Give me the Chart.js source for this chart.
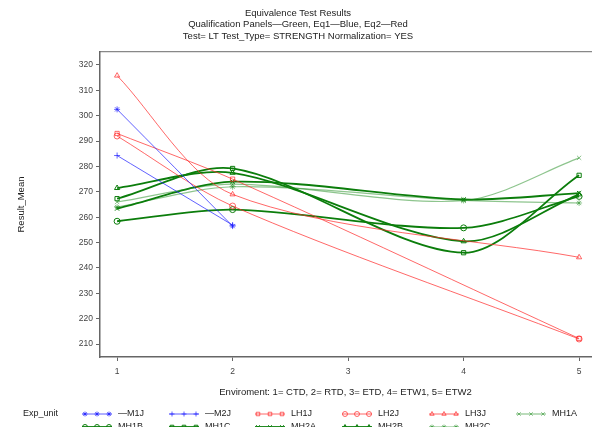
<!DOCTYPE html>
<html>
<head>
<meta charset="utf-8">
<script src="https://cdn.jsdelivr.net/npm/chart.js@4.4.0/dist/chart.umd.min.js"></script>
<style>
  html, body { margin: 0; padding: 0; background: #fff; overflow: hidden; }
  canvas { display: block; }
</style>
</head>
<body>
<canvas id="chart" width="596" height="427"></canvas>
<script>
// Eq1 (blue), tested at environments 1 and 2
const xBlue = [1, 2];
const m1j = [302.5, 256.5];
const m2j = [284.3, 256.9];

// Eq2 (red), tested at environments 1, 2 and 5
const xRed = [1, 2, 5];
const lh1j = [293.0, 275.0, 212.2];
const lh2j = [292.0, 264.4, 212.0];
const lh3j = [315.8, 269.0, 244.2];

// Qualification panels (green), tested at environments 1, 2, 4 and 5
const xGreen = [1, 2, 4, 5];
const mh1a = [266.0, 273.0, 266.5, 283.4];
const mh1b = [258.4, 263.0, 255.8, 268.2];
const mh1c = [267.3, 279.2, 246.0, 276.5];
const mh2a = [263.4, 274.0, 267.0, 269.5];
const mh2b = [271.5, 277.5, 250.5, 269.0];
const mh2c = [264.0, 272.0, 266.6, 265.6];

const titleLines = [
    'Equivalence Test Results',
    'Qualification Panels\u2014Green, Eq1\u2014Blue, Eq2\u2014Red',
    'Test= LT Test_Type= STRENGTH Normalization= YES'
];
const xTitle = 'Enviroment: 1= CTD, 2= RTD, 3= ETD, 4= ETW1, 5= ETW2';
const yTitle = 'Result_Mean';

const FONT = '"Liberation Sans", Arial, sans-serif';
const BLUE = 'rgba(30,30,255,0.7)';
const RED = 'rgba(255,40,40,0.7)';
const GREEN = '#0b7d0b';
const LIGHTGREEN = 'rgba(30,140,30,0.5)';

function pts(xs, ys) {
    return xs.map((x, i) => ({ x: x, y: ys[i] }));
}

function series(label, xs, ys, color, style, width) {
    return {
        label: label,
        data: pts(xs, ys),
        borderColor: color,
        borderWidth: width,
        pointStyle: style,
        pointRadius: 3,
        pointBorderWidth: 1,
        pointBorderColor: color,
        pointBackgroundColor: 'rgba(255,255,255,0)',
        tension: 0.3,
        fill: false
    };
}

// legend grid below the chart (second row runs off the page like the original)
const legendCols = [82, 169, 255, 342, 429, 516];
const legendRows = [414, 427];

const expLegend = {
    id: 'expLegend',
    afterDraw(chart) {
        const ctx = chart.ctx;
        ctx.save();
        ctx.font = '9px ' + FONT;
        ctx.textBaseline = 'middle';
        ctx.fillStyle = '#222';
        ctx.fillText('Exp_unit', 23, legendRows[0]);
        chart.data.datasets.forEach((ds, i) => {
            const x0 = legendCols[i % 6];
            const y = legendRows[Math.floor(i / 6)];
            ctx.strokeStyle = ds.borderColor;
            ctx.lineWidth = ds.borderWidth;
            ctx.beginPath();
            ctx.moveTo(x0, y);
            ctx.lineTo(x0 + 30, y);
            ctx.stroke();
            ctx.lineWidth = 1;
            ctx.fillStyle = 'rgba(255,255,255,0)';
            [3, 15, 27].forEach(dx => {
                Chart.helpers.drawPoint(ctx, { pointStyle: ds.pointStyle, radius: 2.5, borderWidth: 1, rotation: 0 }, x0 + dx, y);
            });
            ctx.fillStyle = '#222';
            ctx.fillText(ds.label, x0 + 36, y);
        });
        ctx.restore();
    }
};

const ctx = document.getElementById('chart').getContext('2d');
new Chart(ctx, {
    type: 'line',
    data: {
        datasets: [
            series('\u2014M1J', xBlue, m1j, BLUE, 'star', 1),
            series('\u2014M2J', xBlue, m2j, BLUE, 'cross', 1),
            series('LH1J', xRed, lh1j, RED, 'rect', 1),
            series('LH2J', xRed, lh2j, RED, 'circle', 1),
            series('LH3J', xRed, lh3j, RED, 'triangle', 1),
            series('MH1A', xGreen, mh1a, LIGHTGREEN, 'crossRot', 1.2),
            series('MH1B', xGreen, mh1b, GREEN, 'circle', 1.8),
            series('MH1C', xGreen, mh1c, GREEN, 'rect', 1.8),
            series('MH2A', xGreen, mh2a, GREEN, 'crossRot', 1.8),
            series('MH2B', xGreen, mh2b, GREEN, 'triangle', 1.8),
            series('MH2C', xGreen, mh2c, LIGHTGREEN, 'star', 1.2)
        ]
    },
    options: {
        responsive: false,
        animation: false,
        devicePixelRatio: 1,
        layout: { padding: { left: 0, right: 0, top: 0, bottom: 0 } },
        plugins: {
            legend: { display: false },
            tooltip: { enabled: false },
            title: {
                display: true,
                text: titleLines,
                color: '#222',
                font: { family: FONT, size: 9.5, weight: 'normal', lineHeight: 1.25 },
                padding: { top: 7, bottom: 9.4 }
            }
        },
        scales: {
            x: {
                type: 'linear',
                position: 'bottom',
                min: 0.852,
                max: 5.103,
                afterFit(scale) { scale.height = 70; },
                ticks: {
                    stepSize: 1,
                    includeBounds: false,
                    padding: 6,
                    color: '#444',
                    font: { family: FONT, size: 8.5 }
                },
                grid: { drawOnChartArea: false, drawTicks: true, tickLength: 4, color: '#666' },
                border: { display: true, color: '#666', width: 1.5 },
                title: {
                    display: true,
                    text: xTitle,
                    color: '#222',
                    font: { family: FONT, size: 9.5 },
                    padding: { top: 0, bottom: 28.5 }
                }
            },
            xTop: {
                type: 'linear',
                position: 'top',
                min: 0.852,
                max: 5.103,
                afterFit(scale) { scale.height = 0; },
                ticks: { display: false },
                grid: { drawOnChartArea: false, drawTicks: false },
                border: { display: true, color: '#888', width: 1.2 }
            },
            y: {
                min: 204.9,
                max: 325.1,
                afterFit(scale) { scale.width = 100; },
                ticks: {
                    stepSize: 10,
                    includeBounds: false,
                    padding: 3,
                    color: '#444',
                    font: { family: FONT, size: 8.5 }
                },
                grid: { drawOnChartArea: false, drawTicks: true, tickLength: 4, color: '#666' },
                border: { display: true, color: '#666', width: 1.5 },
                title: {
                    display: true,
                    text: yTitle,
                    color: '#222',
                    font: { family: FONT, size: 9.5 },
                    padding: { top: 16, bottom: 0 }
                }
            }
        }
    },
    plugins: [expLegend]
});
</script>
</body>
</html>
